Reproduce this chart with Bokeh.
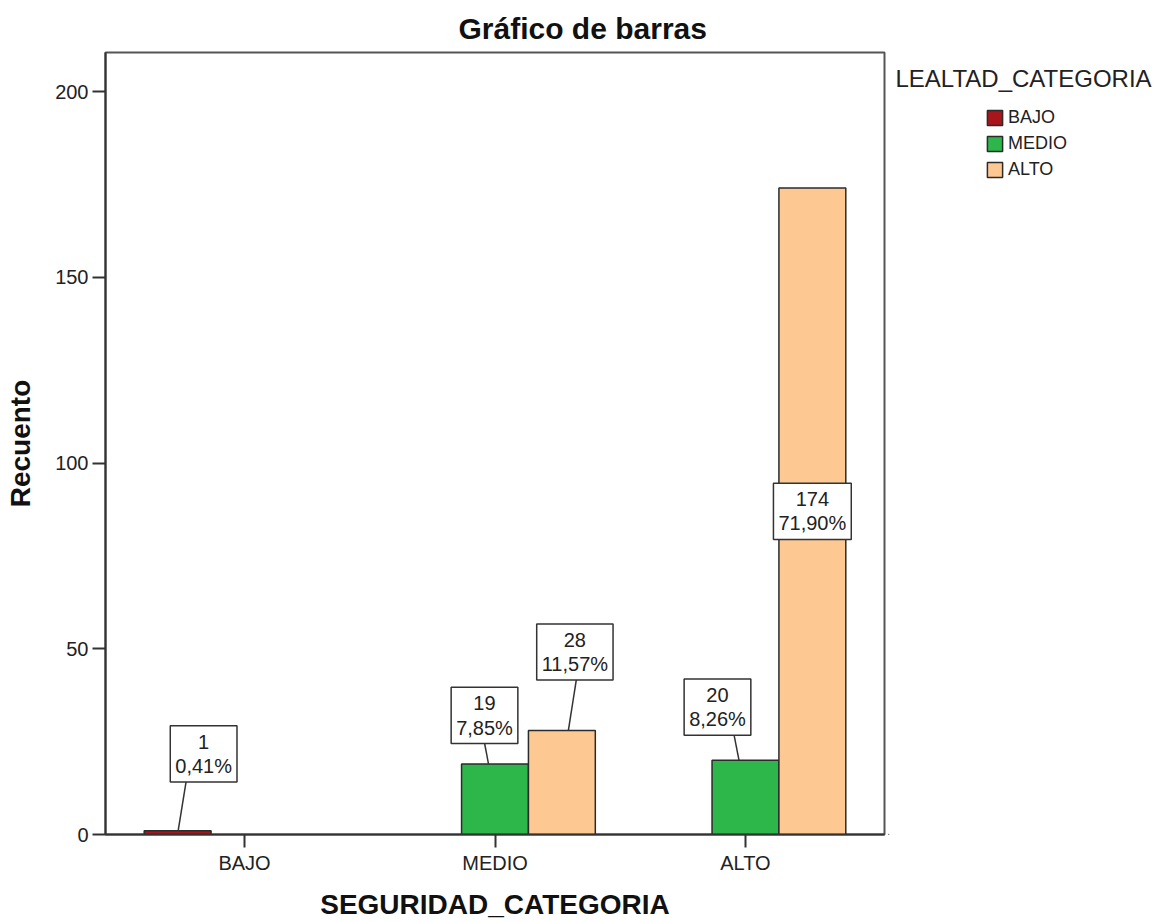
from bokeh.plotting import figure
from bokeh.layouts import row
from bokeh.models import (FactorRange, Range1d, Legend, LegendItem, Label,
                          FixedTicker, ColumnDataSource)
from bokeh.transform import dodge
from bokeh.embed import file_html
from bokeh.resources import INLINE

# ---------------- data ----------------
seguridad = ["BAJO", "MEDIO", "ALTO"]          # x categories
lealtad = ["BAJO", "MEDIO", "ALTO"]            # series (legend)
recuento_bajo = [1, 0, 0]
recuento_medio = [0, 19, 20]
recuento_alto = [0, 28, 174]
y_ticks = [0, 50, 100, 150, 200]

# ---------------- style ----------------
colores = ["#a8161c", "#2db64a", "#fec893"]
FONT = "Liberation Sans"
FRAME_W, FRAME_H = 779, 782
BORDER_L, BORDER_R, BORDER_T, BORDER_B = 105, 4, 52, 85
LEG_W = 275
Y_MAX = 210.5
PAD = 0.055
BAR_W = 0.267
offsets = [-BAR_W, 0.0, BAR_W]
BOX_H = 55
# label placement (px) relative to bar top centre: dx, dy, leader start dx, leader end dx
label_style = {
    ("BAJO", "BAJO"): (26, 77, 0.5, -17.5),
    ("MEDIO", "MEDIO"): (-10.5, 48.5, -6.5, 0),
    ("MEDIO", "ALTO"): (13, 78.5, 6.5, 1.5),
    ("ALTO", "MEDIO"): (-28, 53, -6.5, 16.5),
    ("ALTO", "ALTO"): None,   # inside bar
}

series = [recuento_bajo, recuento_medio, recuento_alto]
total = sum(sum(s) for s in series)

p = figure(x_range=FactorRange(factors=seguridad, range_padding=PAD,
                               range_padding_units="absolute"),
           y_range=Range1d(0, Y_MAX),
           frame_width=FRAME_W, frame_height=FRAME_H,
           min_border_left=BORDER_L, min_border_right=BORDER_R,
           min_border_top=BORDER_T, min_border_bottom=BORDER_B,
           output_backend="svg", toolbar_location=None,
           title="Gráfico de barras")

p.background_fill_color = "white"
p.border_fill_color = "white"
p.outline_line_color = "#555555"
p.outline_line_width = 2
p.grid.visible = False

p.title.align = "left"
p.title.offset = 353
p.title.text_font = FONT
p.title.text_font_size = "30px"
p.title.text_font_style = "bold"
p.title.text_color = "#111111"
p.title.standoff = 15

for ax in (p.xaxis[0], p.yaxis[0]):
    ax.major_label_text_font = FONT
    ax.major_label_text_font_size = "20px"
    ax.major_label_text_color = "#222222"
    ax.major_tick_out = 13
    ax.major_tick_in = 0
    ax.minor_tick_out = 0
    ax.minor_tick_in = 0
    ax.major_tick_line_width = 2
    ax.major_tick_line_color = "#333333"
    ax.axis_line_width = 2
    ax.axis_line_color = "#333333"
    ax.axis_label_text_font = FONT
    ax.axis_label_text_font_size = "28px"
    ax.axis_label_text_font_style = "bold"
    ax.axis_label_text_color = "#111111"
    ax.major_label_standoff = 4

p.xaxis.axis_label = "SEGURIDAD_CATEGORIA"
p.yaxis.axis_label = "Recuento"
p.yaxis.ticker = FixedTicker(ticks=y_ticks)
p.xaxis.axis_label_standoff = 12
p.yaxis.axis_label_standoff = 16

for name, vals, off, col in zip(lealtad, series, offsets, colores):
    segs = [s for s, v in zip(seguridad, vals) if v > 0]
    vs = [v for v in vals if v > 0]
    src = ColumnDataSource(dict(seg=segs, v=vs))
    p.vbar(x=dodge("seg", off, range=p.x_range), top="v", width=BAR_W,
           source=src, fill_color=col, line_color="#2b2b2b", line_width=1.5)

ux = (len(seguridad) + 2 * PAD) / FRAME_W
uy = Y_MAX / FRAME_H

x0s, y0s, x1s, y1s = [], [], [], []
for i, seg in enumerate(seguridad):
    for j, leal in enumerate(lealtad):
        v = series[j][i]
        if v <= 0:
            continue
        xc = i + 0.5 + offsets[j]
        pct = f"{v / total * 100:.2f}".replace(".", ",") + "%"
        st = label_style[(seg, leal)]
        if st is None:
            y, dx, dy = v / 2, 0, 0
        else:
            dx, dy, bdx, kdx = st
            y = v
            x0s.append(xc + bdx * ux)
            y0s.append(v)
            x1s.append(xc + (dx + kdx) * ux)
            y1s.append(v + (dy - BOX_H / 2) * uy)
        p.add_layout(Label(x=xc, y=y, x_offset=dx, y_offset=dy,
                           text=f"{v}\n{pct}", text_font=FONT,
                           text_font_size="20px", text_color="#222222",
                           text_align="center", text_baseline="middle",
                           text_line_height=1.1,
                           background_fill_color="white",
                           border_line_color="#333333", border_line_width=1.5,
                           padding=5))

p.segment(x0=x0s, y0=y0s, x1=x1s, y1=y1s, line_color="#333333", line_width=1.5)

# ---------------- legend panel (separate figure to the right) ----------------
p2 = figure(frame_width=LEG_W, frame_height=FRAME_H, title=None,
            x_range=Range1d(0, LEG_W), y_range=Range1d(0, FRAME_H),
            min_border_left=0, min_border_right=0,
            min_border_top=BORDER_T, min_border_bottom=BORDER_B,
            x_axis_location=None, y_axis_location=None,
            output_backend="svg", toolbar_location=None)
p2.outline_line_color = None
p2.background_fill_color = "white"
p2.border_fill_color = "white"
p2.grid.visible = False

# legend proxies: a single zero-height bar below the visible range (clipped away)
legend_items = []
for name, col in zip(lealtad, colores):
    r = p2.vbar(x=[0], top=[-5], bottom=[-5], width=0.001, fill_color=col,
                line_color="#2b2b2b", line_width=1.5)
    legend_items.append(LegendItem(label=name, renderers=[r]))

LEG_LEFT = BORDER_L + FRAME_W + BORDER_R
legend = Legend(items=legend_items,
                location=(985 - LEG_LEFT, FRAME_H - (107 - BORDER_T) - 73),
                glyph_width=19, glyph_height=19, label_height=19,
                label_text_font=FONT, label_text_font_size="18px",
                label_text_color="#222222",
                spacing=5, label_standoff=4, padding=0, margin=0,
                border_line_color=None, background_fill_alpha=0)
p2.add_layout(legend, "center")

p2.add_layout(Label(x=895 - LEG_LEFT, y=FRAME_H - (78 - BORDER_T),
                    text="LEALTAD_CATEGORIA", text_font=FONT,
                    text_font_size="24px", text_color="#222222",
                    text_align="left", text_baseline="middle"))

open("out.html", "w").write(file_html(row(p, p2), INLINE))
